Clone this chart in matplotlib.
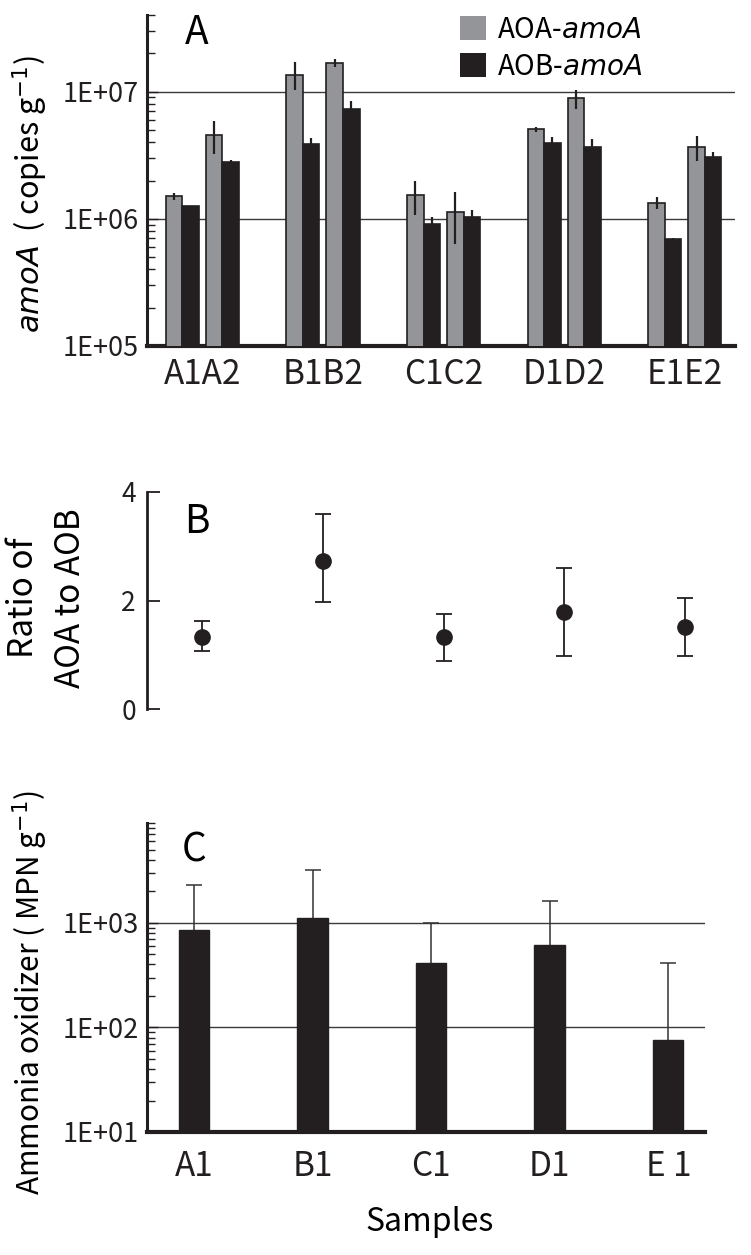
import numpy as np
import matplotlib
matplotlib.use("Agg")
import matplotlib.pyplot as plt
from matplotlib.patches import Patch
from matplotlib.ticker import LogLocator, NullFormatter

plt.rcParams["font.family"] = ["Noto Sans CJK JP", "DejaVu Sans"]
plt.rcParams["mathtext.fontset"] = "dejavusans"

# ---- panel A: amoA copies (two samples per site) ----
groups_a = ["A1A2", "B1B2", "C1C2", "D1D2", "E1E2"]
aoa_s1 = [1.50e6, 1.36e7, 1.53e6, 5.05e6, 1.34e6]
aoa_s1_err = [0.10e6, 3.4e6, 0.45e6, 0.20e6, 0.15e6]
aob_s1 = [1.27e6, 3.85e6, 9.1e5, 3.94e6, 6.96e5]
aob_s1_err = [0.0, 0.45e6, 1.2e5, 0.43e6, 0.1e5]
aoa_s2 = [4.53e6, 1.68e7, 1.13e6, 8.86e6, 3.64e6]
aoa_s2_err = [1.3e6, 1.2e6, 5.0e5, 1.5e6, 0.8e6]
aob_s2 = [2.80e6, 7.3e6, 1.04e6, 3.67e6, 3.04e6]
aob_s2_err = [0.1e6, 1.1e6, 0.13e6, 0.6e6, 0.3e6]
a_ticks = [1e5, 1e6, 1e7]
a_ticklabels = ["1E+05", "1E+06", "1E+07"]

# ---- panel B: AOA/AOB ratio ----
ratio = [1.33, 2.73, 1.33, 1.78, 1.51]
ratio_lo = [0.27, 0.75, 0.44, 0.80, 0.54]
ratio_hi = [0.29, 0.87, 0.42, 0.82, 0.54]
b_ticks = [0, 2, 4]

# ---- panel C: MPN of ammonia oxidizers ----
samples_c = ["A1", "B1", "C1", "D1", "E 1"]
mpn = [855, 1100, 417, 619, 76]
mpn_err = [1430, 2100, 583, 987, 335]
c_ticks = [1e1, 1e2, 1e3]
c_ticklabels = ["1E+01", "1E+02", "1E+03"]

GRAY = "#939598"
BLACK = "#231f20"

W, H = 751, 1255
fig = plt.figure(figsize=(W / 100, H / 100), dpi=100)


def px_axes(left, top, right, bottom):
    return fig.add_axes([left / W, 1 - bottom / H, (right - left) / W, (bottom - top) / H])


def log_yaxis(ax, ticks, labels):
    ax.set_yscale("log")
    ax.set_yticks(ticks)
    ax.set_yticklabels(labels)
    ax.yaxis.set_minor_locator(LogLocator(base=10, subs=np.arange(2, 10)))
    ax.yaxis.set_minor_formatter(NullFormatter())
    ax.tick_params(axis="y", which="major", direction="in", length=8, width=1,
                   labelsize=19.5, pad=6, colors=BLACK)
    ax.tick_params(axis="y", which="minor", direction="in", length=6, width=1, colors=BLACK)
    for t in ticks[1:]:
        ax.axhline(t, color="#3a3a3a", lw=1, zorder=1)
    for s in ["top", "right"]:
        ax.spines[s].set_visible(False)
    ax.spines["left"].set_linewidth(2.2)
    ax.spines["bottom"].set_linewidth(3)
    ax.spines["left"].set_color(BLACK)
    ax.spines["bottom"].set_color(BLACK)


# ---------- A ----------
axA = px_axes(147, 15, 735, 346)
x = np.arange(len(groups_a))
w = 0.137
off = 0.166
ekw = dict(ecolor=BLACK, elinewidth=1.6, capsize=0)
axA.bar(x - off - w / 2, aoa_s1, w, yerr=aoa_s1_err, color=GRAY, edgecolor=BLACK, lw=1.2,
        error_kw=ekw, zorder=3)
axA.bar(x - off + w / 2, aob_s1, w, yerr=aob_s1_err, color=BLACK, edgecolor=BLACK, lw=1.2,
        error_kw=ekw, zorder=3)
axA.bar(x + off - w / 2, aoa_s2, w, yerr=aoa_s2_err, color=GRAY, edgecolor=BLACK, lw=1.2,
        error_kw=ekw, zorder=3)
axA.bar(x + off + w / 2, aob_s2, w, yerr=aob_s2_err, color=BLACK, edgecolor=BLACK, lw=1.2,
        error_kw=ekw, zorder=3)
log_yaxis(axA, a_ticks, a_ticklabels)
axA.set_ylim(1e5, 4e7)
axA.set_xlim(-0.459, 4.416)
axA.set_xticks(x)
axA.set_xticklabels(groups_a)
axA.tick_params(axis="x", length=0, labelsize=24, pad=8, colors=BLACK)
axA.text(0.085, 0.945, "A", transform=axA.transAxes, fontsize=28, ha="center", va="center")
axA.legend(handles=[Patch(facecolor=GRAY, edgecolor="none"), Patch(facecolor=BLACK, edgecolor="none")],
           labels=["AOA-$\\it{amoA}$", "AOB-$\\it{amoA}$"],
           loc="upper left", bbox_to_anchor=(0.532, 1.0), borderaxespad=0, borderpad=0,
           frameon=False, fontsize=20, handlelength=0.95, handleheight=0.95,
           handletextpad=0.4, labelspacing=0.25)

# ---------- B ----------
axB = px_axes(147, 492, 735, 709)
axB.errorbar(x, ratio, yerr=[ratio_lo, ratio_hi], fmt="o", color=BLACK, ms=11,
             ecolor=BLACK, elinewidth=1.3, capsize=6, capthick=1.3)
axB.set_ylim(0, 4)
axB.set_xlim(-0.459, 4.416)
axB.set_yticks(b_ticks)
axB.set_yticklabels([str(t) for t in b_ticks])
axB.tick_params(axis="y", direction="in", length=9, width=1.3, labelsize=19, pad=8, colors=BLACK)
for s in ["top", "right", "bottom"]:
    axB.spines[s].set_visible(False)
axB.spines["left"].set_linewidth(2)
axB.spines["left"].set_color(BLACK)
axB.set_xticks([])
axB.text(0.085, 0.86, "B", transform=axB.transAxes, fontsize=28, ha="center", va="center")

# ---------- C ----------
axC = px_axes(147, 823, 705, 1132)
xc = np.arange(len(samples_c))
axC.bar(xc, mpn, 0.257, color=BLACK, edgecolor=BLACK, zorder=3)
eb = axC.errorbar(xc, mpn, yerr=[np.zeros(len(mpn)), mpn_err], fmt="none", ecolor="#333333",
                  elinewidth=1.1, capsize=6, capthick=1.1, zorder=2)
eb[1][0].set_visible(False)  # upper error only
log_yaxis(axC, c_ticks, c_ticklabels)
axC.set_ylim(10, 9000)
axC.set_xlim(-0.397, 4.31)
axC.set_xticks(xc)
axC.set_xticklabels(samples_c)
axC.tick_params(axis="x", length=0, labelsize=24, pad=12, colors=BLACK)
axC.text(0.085, 0.91, "C", transform=axC.transAxes, fontsize=28, ha="center", va="center")

# ---------- axis titles ----------
fig.text(30 / W, 1 - 194 / H, "$\\it{amoA}$  ( copies g$^{-1}$)", rotation=90,
         ha="center", va="center", fontsize=22)
fig.text(47 / W, 1 - 598 / H, "Ratio of\nAOA to AOB", rotation=90, ha="center", va="center",
         fontsize=24, linespacing=1.45)
fig.text(30 / W, 1 - 993 / H, "Ammonia oxidizer ( MPN g$^{-1}$)", rotation=90,
         ha="center", va="center", fontsize=21.5)
fig.text(430 / W, 1 - 1222 / H, "Samples", ha="center", va="center", fontsize=23)

fig.savefig("out.png", dpi=100)
